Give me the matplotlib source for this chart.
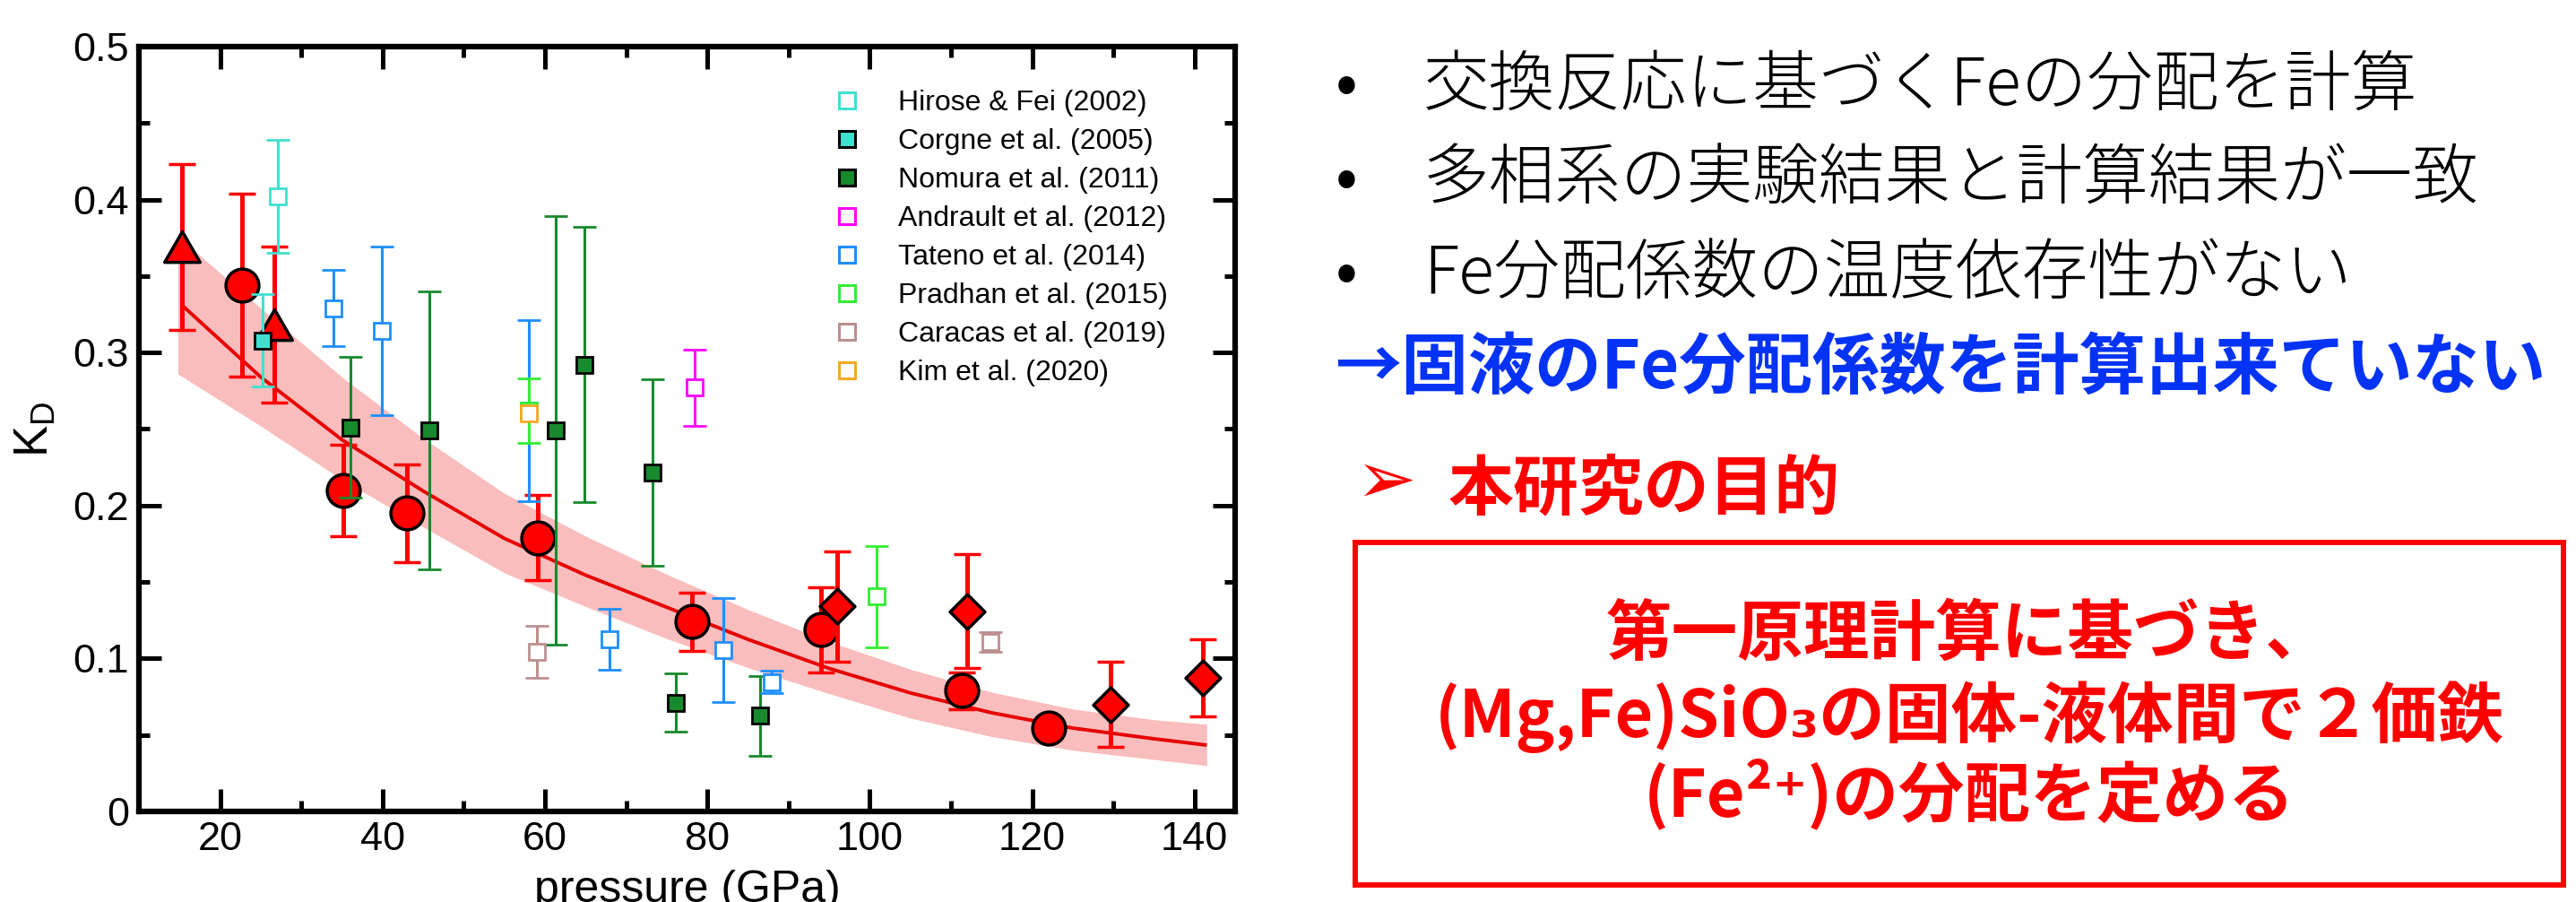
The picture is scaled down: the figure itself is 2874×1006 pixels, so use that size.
import matplotlib
matplotlib.use("Agg")
import matplotlib.pyplot as plt
from matplotlib.lines import Line2D
from matplotlib.patches import Rectangle
from matplotlib.path import Path
from matplotlib.ticker import MultipleLocator

plt.rcParams['font.family'] = ['Liberation Sans', 'DejaVu Sans']
plt.rcParams['mathtext.fontset'] = 'custom'
plt.rcParams['mathtext.rm'] = 'Liberation Sans'
plt.rcParams['mathtext.it'] = 'Liberation Sans'

# ---------------- data: K_D versus pressure (GPa) ----------------
# this work (red symbols)
tri_p = [15.3, 26.7]
tri_k = [0.369, 0.318]
tri_e = [0.054, 0.051]

circ_p = [22.7, 35.2, 43.0, 59.1, 78.1, 94.0, 111.3, 122.0]
circ_k = [0.344, 0.210, 0.195, 0.179, 0.124, 0.1187, 0.079, 0.0547]
circ_e = [0.060, 0.030, 0.032, 0.028, 0.019, 0.028, 0.012, 0.0]

dia_p = [96.0, 112.0, 129.7, 141.0]
dia_k = [0.134, 0.131, 0.070, 0.0873]
dia_e = [0.036, 0.037, 0.028, 0.025]

# fitted curve and its uncertainty band
fit_p = [15.5, 25, 35, 45, 55, 65, 75, 85, 95, 105, 115, 125, 135, 141.3]
fit_k = [0.330, 0.284, 0.243, 0.2095, 0.1785, 0.1545, 0.1335, 0.1125, 0.0935,
         0.0775, 0.0645, 0.0545, 0.0475, 0.0435]
band_p = [14.8, 25, 35, 45, 55, 65, 75, 85, 95, 105, 115, 125, 135, 141.5]
band_hi = [0.376, 0.329, 0.284, 0.244, 0.208, 0.180, 0.155, 0.132, 0.111,
           0.093, 0.078, 0.067, 0.060, 0.057]
band_lo = [0.286, 0.252, 0.217, 0.186, 0.156, 0.134, 0.113, 0.094, 0.077,
           0.061, 0.049, 0.040, 0.034, 0.030]

# previous studies
hirose_p, hirose_k, hirose_e = [27.1], [0.402], [0.037]
corgne_p, corgne_k, corgne_e = [25.2], [0.308], [0.030]
nomura_p = [36.1, 45.8, 61.3, 64.9, 73.3, 76.1, 86.5]
nomura_k = [0.251, 0.249, 0.249, 0.292, 0.2215, 0.071, 0.0625]
nomura_e = [0.046, 0.091, 0.140, 0.090, 0.061, 0.019, 0.026]
andrault_p, andrault_k, andrault_e = [78.4], [0.277], [0.025]
tateno_p = [34.0, 39.9, 58.0, 68.0, 82.0, 87.9]
tateno_k = [0.329, 0.314, 0.262, 0.1125, 0.1056, 0.0846]
tateno_e = [0.025, 0.055, 0.059, 0.020, 0.034, 0.0075]
pradhan_p, pradhan_k, pradhan_e = [58.0, 100.9], [0.262, 0.1405], [0.021, 0.033]
caracas_p, caracas_k, caracas_e = [59.0, 114.9], [0.1046, 0.1109], [0.017, 0.0065]
kim_p, kim_k = [58.0], [0.260]

x_ticks = [20, 40, 60, 80, 100, 120, 140]
y_ticks = [0, 0.1, 0.2, 0.3, 0.4, 0.5]
y_ticklabels = ['0', '0.1', '0.2', '0.3', '0.4', '0.5']

# ---------------- slide text ----------------
bullet_lines = ['交換反応に基づくFeの分配を計算',
                '多相系の実験結果と計算結果が一致',
                'Fe分配係数の温度依存性がない']
note_line = '→固液のFe分配係数を計算出来ていない'
goal_title = '本研究の目的'
goal_lines = ['第一原理計算に基づき、',
              '(Mg,Fe)SiO₃の固体-液体間で２価鉄',
              '(Fe²⁺)の分配を定める']

W, H = 2874, 1006
fig = plt.figure(figsize=(W / 100, H / 100), dpi=100)


def fx(px):
    return px / W


def fy(py):
    return 1 - py / H


ax = fig.add_axes([fx(155), fy(905), (1378 - 155) / W, (905 - 52) / H])

RED = '#FF0000'
tri_marker = Path([(-1, -0.866), (1, -0.866), (0, 0.866), (0, 0)],
                  [Path.MOVETO, Path.LINETO, Path.LINETO, Path.CLOSEPOLY])
dia_marker = Path([(0, 1), (1, 0), (0, -1), (-1, 0), (0, 0)],
                  [Path.MOVETO, Path.LINETO, Path.LINETO, Path.LINETO, Path.CLOSEPOLY])

# band + fit
ax.fill_between(band_p, band_lo, band_hi, color='#F9BDBD', lw=0, zorder=1)
ax.plot(fit_p, fit_k, color='#E60000', lw=2.8, zorder=2)

red_bar = dict(ls='none', ecolor=RED, elinewidth=3.6, capsize=10.8, capthick=3.6,
               mfc=RED, mec='black', mew=2.5)
ax.errorbar(tri_p, tri_k, yerr=tri_e, marker=tri_marker, ms=28.5, zorder=3, **red_bar)
ax.errorbar(circ_p, circ_k, yerr=circ_e, marker='o', ms=26.5, zorder=3, **red_bar)
ax.errorbar(dia_p, dia_k, yerr=dia_e, marker=dia_marker, ms=28, zorder=3.5, **red_bar)

lit = [
    ('Hirose & Fei (2002)', hirose_p, hirose_k, hirose_e, '#40E0D0', 'white', '#40E0D0'),
    ('Corgne et al. (2005)', corgne_p, corgne_k, corgne_e, '#40E0D0', '#40E0D0', 'black'),
    ('Nomura et al. (2011)', nomura_p, nomura_k, nomura_e, '#178A2E', '#178A2E', 'black'),
    ('Andrault et al. (2012)', andrault_p, andrault_k, andrault_e, '#FF00FF', 'white', '#FF00FF'),
    ('Tateno et al. (2014)', tateno_p, tateno_k, tateno_e, '#1E8FFF', 'white', '#1E8FFF'),
    ('Pradhan et al. (2015)', pradhan_p, pradhan_k, pradhan_e, '#33EE33', 'white', '#33EE33'),
    ('Caracas et al. (2019)', caracas_p, caracas_k, caracas_e, '#BC8F8F', 'white', '#BC8F8F'),
    ('Kim et al. (2020)', kim_p, kim_k, None, '#F7A823', 'white', '#F7A823'),
]
handles = []
for i, (label, p, k, e, col, fc, ec) in enumerate(lit):
    ax.errorbar(p, k, yerr=e, ls='none', marker='s', ms=12.5, mfc=fc, mec=ec, mew=2.0,
                ecolor=col, elinewidth=2.2, capsize=9.7, capthick=2.2, zorder=4 + 0.1 * i)
    handles.append(Line2D([], [], ls='none', marker='s', ms=13.5, mfc=fc, mec=ec,
                          mew=2.2, label=label))

ax.legend(handles=handles, loc='upper left', bbox_to_anchor=(0.609, 0.959),
          frameon=False, fontsize=23, handlelength=2.0, handletextpad=0.8,
          labelspacing=0.41, borderpad=0.4, borderaxespad=0)

ax.set_xlim(10, 145)
ax.set_ylim(0, 0.5)
ax.set_xticks(x_ticks)
ax.set_yticks(y_ticks)
ax.set_yticklabels(y_ticklabels)
ax.xaxis.set_minor_locator(MultipleLocator(10))
ax.yaxis.set_minor_locator(MultipleLocator(0.05))
ax.tick_params(which='both', direction='in', top=True, right=True, width=3.6)
ax.tick_params(which='major', length=18, labelsize=32.5, pad=8)
ax.tick_params(which='minor', length=8.6)
for s in ax.spines.values():
    s.set_linewidth(4.5)

ax.set_xlabel('pressure (GPa)', fontsize=36)
ax.xaxis.set_label_coords(0.5, -0.076)
ax.set_ylabel(r'$\mathregular{K_D}$', fontsize=38)
ax.yaxis.set_label_coords(-0.0736, 0.5)

# ---------------- right-hand text ----------------
cjk = ['Noto Sans CJK JP', 'DejaVu Sans']
for base, line in zip([117, 222, 327], bullet_lines):
    fig.text(fx(1502), fy(base), '•', ha='center', va='baseline', fontsize=53,
             family=cjk, color='black')
    fig.text(fx(1588), fy(base), line, ha='left', va='baseline', fontsize=53,
             family=cjk, weight='light', color='black')

fig.text(fx(1489), fy(433), note_line, ha='left', va='baseline', fontsize=53.6,
         family=cjk, weight='bold', color='#0533F5')

fig.text(fx(1546), fy(539), '➢', ha='center', va='center', fontsize=58,
         family=['DejaVu Sans'], color=RED)
fig.text(fx(1616), fy(567), goal_title, ha='left', va='baseline', fontsize=52.5,
         family=cjk, weight='bold', color=RED)

fig.patches.append(Rectangle((fx(1512), fy(987)), (2860 - 1512) / W, (987 - 605) / H,
                             transform=fig.transFigure, fill=False, ec=RED, lw=4.3))
for base, line in zip([730, 822, 910], goal_lines):
    fig.text(fx(2197), fy(base), line, ha='center', va='baseline', fontsize=53,
             family=cjk, weight='bold', color=RED)

fig.savefig('out.png', dpi=100)
